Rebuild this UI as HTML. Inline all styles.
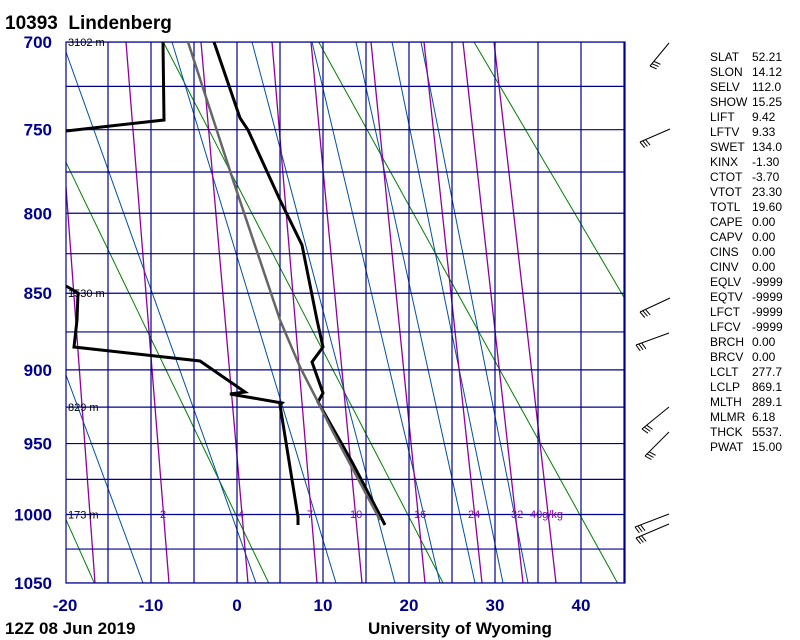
<!DOCTYPE html>
<html><head><meta charset="utf-8"><style>
body{margin:0;background:#fff;}
svg{display:block;font-family:"Liberation Sans",sans-serif;}
</style></head><body>
<svg id="s" width="800" height="640" xmlns="http://www.w3.org/2000/svg">
<defs><clipPath id="c"><rect x="66" y="42" width="559" height="541"/></clipPath></defs>
<g id="g" clip-path="url(#c)"></g>
<g id="o"></g>
<text x="5" y="29" font-size="19" font-weight="bold" xml:space="preserve">10393  Lindenberg</text>
<text x="5" y="634" font-size="17" font-weight="bold">12Z 08 Jun 2019</text>
<text x="368" y="634" font-size="17" font-weight="bold">University of Wyoming</text>
</svg>
<script>
var NS="http://www.w3.org/2000/svg";
var g=document.getElementById('g'),o=document.getElementById('o'),s=document.getElementById('s');
function el(par,t,a,txt){var e=document.createElementNS(NS,t);for(var k in a)e.setAttribute(k,a[k]);if(txt!=null)e.textContent=txt;par.appendChild(e);return e;}
var k=0.286,p0=Math.pow(700,k),p1=Math.pow(1050,k);
function Y(p){return 42+541*(Math.pow(p,k)-p0)/(p1-p0);}
function X(T){return 237+8.6*T;}
[253,273,293,313,333].forEach(function(th){var pts=[];for(var p=680;p<=1060;p+=10){pts.push(X(th*Math.pow(p/1000,k)-273.15).toFixed(1)+","+Y(p).toFixed(1));}
el(g,'polyline',{points:pts.join(' '),fill:'none',stroke:'#008000','stroke-width':1});});
[[66,375,143,583],[66,52,256,583],[172,42,336,583],[252,42,395,583],[312,42,440,583],[356,42,475,583],[392,42,503,583],[421,42,528,583]].forEach(function(l){
el(g,'line',{x1:l[0],y1:l[1],x2:l[2],y2:l[3],stroke:'#0050a0','stroke-width':1});});
[[66,187,95,583],[126,42,169,583],[201,42,248,583],[272,42,317,583],[311,42,362,583],[371,42,425,583],[424,42,482,583],[463,42,523,583],[494,42,556,583]].forEach(function(l){
el(g,'line',{x1:l[0],y1:l[1],x2:l[2],y2:l[3],stroke:'#9000a0','stroke-width':1.3});});
for(var T=-20;T<=45;T+=5){el(g,'line',{x1:X(T),y1:42,x2:X(T),y2:583,stroke:'#000090','stroke-width':1.2});}
for(var p=700;p<=1050;p+=25){el(g,'line',{x1:66,y1:Y(p),x2:625,y2:Y(p),stroke:'#000090','stroke-width':1.2});}
el(o,'rect',{x:66,y:42,width:559,height:541,fill:'none',stroke:'#000090','stroke-width':1.2});
[700,750,800,850,900,950,1000,1050].forEach(function(p){el(o,'text',{x:52,y:Y(p)+6,'font-size':17,'font-weight':'bold','text-anchor':'end',fill:'#000090'},p);});
[-20,-10,0,10,20,30,40].forEach(function(T){el(o,'text',{x:X(T),y:611,'font-size':17,'font-weight':'bold','text-anchor':'middle',fill:'#000090'},T);});
[["3102 m",700],["1530 m",850],["829 m",925],["173 m",1000]].forEach(function(h){el(o,'text',{x:68,y:Y(h[1])+4,'font-size':11},h[0]);});
[["2",160],["4",238],["7",307],["10",350],["16",414],["24",468],["32",511],["40g/kg",530]].forEach(function(m){el(o,'text',{x:m[1],y:518,'font-size':11,fill:'#9000a0'},m[0]);});
el(o,'polyline',{points:"214,42 240,118 248,130 280,200 302,245 304,255 317,320 323,347 312,362 323,393 318,402 352,462 385,525",fill:'none',stroke:'#000','stroke-width':3});
el(o,'polyline',{points:"188,42 233,180 280,320 300,367 318,402 333,432 380,520",fill:'none',stroke:'#666','stroke-width':2.5});
el(o,'polyline',{points:"163,42 164,120 66,131",fill:'none',stroke:'#000','stroke-width':3});
el(o,'polyline',{points:"66,286 78,293 77,320 74,347 200,361 245,392 230,394 282,403 280,405 298,517 298,525",fill:'none',stroke:'#000','stroke-width':3});
[[669,43,650,66],[670,129,640,142],[670,298,640,312],[669,333,636,345],[669,407,642,429],[669,432,645,456],[669,514,635,527],[669,524,636,538]].forEach(function(b){
el(o,'line',{x1:b[0],y1:b[1],x2:b[2],y2:b[3],stroke:'#000','stroke-width':1});
var dx=b[0]-b[2],dy=b[1]-b[3],L=Math.sqrt(dx*dx+dy*dy);var ux=dx/L,uy=dy/L;var nx=uy,ny=-ux;if(ny>0){nx=-nx;ny=-ny;}
for(var i=0;i<3;i++){var bx=b[2]+ux*(i*3),by=b[3]+uy*(i*3);el(o,'line',{x1:bx,y1:by,x2:bx-nx*7+ux*2,y2:by-ny*7+uy*2,stroke:'#000','stroke-width':1});}
});
var idx=[["SLAT","52.21"],["SLON","14.12"],["SELV","112.0"],["SHOW","15.25"],["LIFT","9.42"],["LFTV","9.33"],["SWET","134.0"],["KINX","-1.30"],["CTOT","-3.70"],["VTOT","23.30"],["TOTL","19.60"],["CAPE","0.00"],["CAPV","0.00"],["CINS","0.00"],["CINV","0.00"],["EQLV","-9999"],["EQTV","-9999"],["LFCT","-9999"],["LFCV","-9999"],["BRCH","0.00"],["BRCV","0.00"],["LCLT","277.7"],["LCLP","869.1"],["MLTH","289.1"],["MLMR","6.18"],["THCK","5537."],["PWAT","15.00"]];
idx.forEach(function(r,i){var y=61+i*15;el(o,'text',{x:710,y:y,'font-size':12},r[0]);el(o,'text',{x:752,y:y,'font-size':12},r[1]);});
</script>
</body></html>
